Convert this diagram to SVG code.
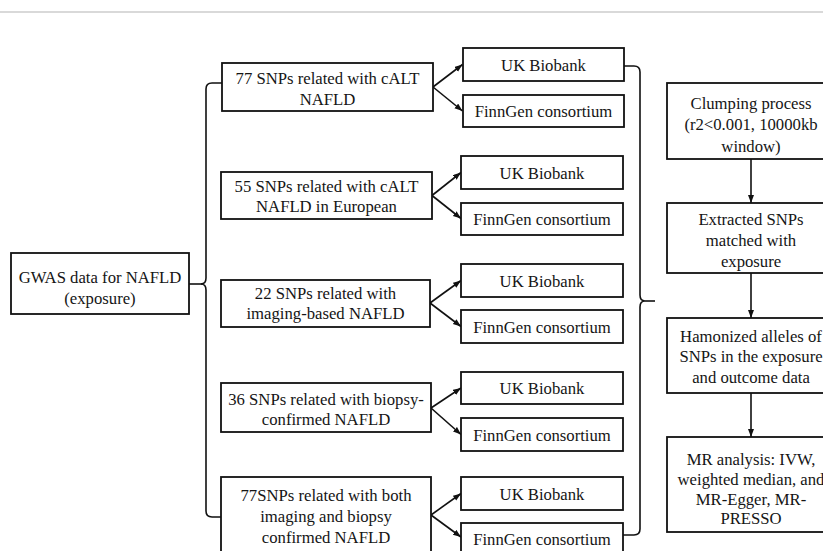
<svg xmlns="http://www.w3.org/2000/svg" width="823" height="551" viewBox="0 0 823 551">
<style>
  .box { fill: #ffffff; stroke: #111111; stroke-width: 1.8; }
  .t { font-family: "Liberation Serif", "Times New Roman", serif; font-size: 16.7px; fill: #151515; text-anchor: middle; }
  .c { fill: none; stroke: #111111; stroke-width: 1.6; }
</style>
<defs>
  <marker id="ah" markerUnits="userSpaceOnUse" markerWidth="9" markerHeight="7" refX="8" refY="3" orient="auto">
    <path d="M0,0 L8,3 L0,6 z" fill="#111111"/>
  </marker>
</defs>
<rect x="0" y="0" width="823" height="551" fill="#ffffff"/>
<line x1="0" y1="12" x2="823" y2="12" stroke="#cccccc" stroke-width="1.5"/>

<g id="connectors">
  <!-- left brace -->
  <line class="c" x1="189" y1="284" x2="202" y2="284"/>
  <path class="c" d="M222,83 H212 Q206,83 206,89 V278 Q206,284 201,284 Q206,284 206,290 V511 Q206,517 212,517 H221"/>
  <!-- branch arrows -->
  <line class="c" x1="433" y1="87" x2="462.5" y2="64.5" marker-end="url(#ah)"/>
  <line class="c" x1="433" y1="87" x2="462.5" y2="111" marker-end="url(#ah)"/>
  <line class="c" x1="432" y1="195.5" x2="461" y2="172.5" marker-end="url(#ah)"/>
  <line class="c" x1="432" y1="195.5" x2="461" y2="218.5" marker-end="url(#ah)"/>
  <line class="c" x1="430" y1="303" x2="461" y2="280.5" marker-end="url(#ah)"/>
  <line class="c" x1="430" y1="303" x2="461" y2="326.5" marker-end="url(#ah)"/>
  <line class="c" x1="431" y1="408" x2="461" y2="388" marker-end="url(#ah)"/>
  <line class="c" x1="431" y1="408" x2="461" y2="434.5" marker-end="url(#ah)"/>
  <line class="c" x1="431" y1="515" x2="461" y2="493.5" marker-end="url(#ah)"/>
  <line class="c" x1="431" y1="515" x2="461" y2="537" marker-end="url(#ah)"/>
  <!-- right brace -->
  <path class="c" d="M624,66 H634 Q640,66 640,72 V295 Q640,301 645,301 Q640,301 640,307 V529 Q640,535 634,535 H623"/>
  <line class="c" x1="645" y1="301" x2="655" y2="301"/>
  <!-- right column arrows -->
  <line class="c" x1="751" y1="159" x2="751" y2="203" marker-end="url(#ah)"/>
  <line class="c" x1="751" y1="273" x2="751" y2="318" marker-end="url(#ah)"/>
  <line class="c" x1="751" y1="393" x2="751" y2="437" marker-end="url(#ah)"/>
</g>

<g id="gwas">
  <rect class="box" x="11" y="253" width="178" height="61"/>
  <text class="t" x="100" y="282.5">GWAS data for NAFLD</text>
  <text class="t" x="100" y="303.5">(exposure)</text>
</g>

<g id="snp1">
  <rect class="box" x="222" y="63" width="211" height="48"/>
  <text class="t" x="327.5" y="84">77 SNPs related with cALT</text>
  <text class="t" x="327.5" y="105">NAFLD</text>
</g>
<g id="snp2">
  <rect class="box" x="221" y="172" width="211" height="47"/>
  <text class="t" x="326.5" y="191.5">55 SNPs related with cALT</text>
  <text class="t" x="326.5" y="212">NAFLD in European</text>
</g>
<g id="snp3">
  <rect class="box" x="221" y="280" width="209" height="47"/>
  <text class="t" x="325.5" y="298.5">22 SNPs related with</text>
  <text class="t" x="325.5" y="319">imaging-based NAFLD</text>
</g>
<g id="snp4">
  <rect class="box" x="221" y="383" width="210" height="49"/>
  <text class="t" x="326" y="404.5">36 SNPs related with biopsy-</text>
  <text class="t" x="326" y="425">confirmed NAFLD</text>
</g>
<g id="snp5">
  <rect class="box" x="221" y="477" width="210" height="80"/>
  <text class="t" x="326" y="501">77SNPs related with both</text>
  <text class="t" x="326" y="522">imaging and biopsy</text>
  <text class="t" x="326" y="543">confirmed NAFLD</text>
</g>

<g id="uk1"><rect class="box" x="463" y="48" width="161" height="33"/><text class="t" x="543.5" y="70.5">UK Biobank</text></g>
<g id="fg1"><rect class="box" x="463" y="95" width="161" height="32"/><text class="t" x="543.5" y="117">FinnGen consortium</text></g>
<g id="uk2"><rect class="box" x="461" y="156" width="162" height="33"/><text class="t" x="542" y="178.5">UK Biobank</text></g>
<g id="fg2"><rect class="box" x="461" y="203" width="162" height="32"/><text class="t" x="542" y="225">FinnGen consortium</text></g>
<g id="uk3"><rect class="box" x="461" y="264" width="162" height="33"/><text class="t" x="542" y="286.5">UK Biobank</text></g>
<g id="fg3"><rect class="box" x="461" y="310" width="162" height="33"/><text class="t" x="542" y="332.5">FinnGen consortium</text></g>
<g id="uk4"><rect class="box" x="461" y="372" width="162" height="32"/><text class="t" x="542" y="394">UK Biobank</text></g>
<g id="fg4"><rect class="box" x="461" y="418" width="162" height="33"/><text class="t" x="542" y="440.5">FinnGen consortium</text></g>
<g id="uk5"><rect class="box" x="461" y="477" width="162" height="33"/><text class="t" x="542" y="499.5">UK Biobank</text></g>
<g id="fg5"><rect class="box" x="461" y="523" width="162" height="33"/><text class="t" x="542" y="545">FinnGen consortium</text></g>

<g id="clumping">
  <rect class="box" x="667" y="83" width="168" height="76"/>
  <text class="t" x="751" y="108.5">Clumping process</text>
  <text class="t" x="751" y="130">(r2&lt;0.001, 10000kb</text>
  <text class="t" x="751" y="151.5">window)</text>
</g>
<g id="extracted">
  <rect class="box" x="667" y="203" width="168" height="70"/>
  <text class="t" x="751" y="225">Extracted SNPs</text>
  <text class="t" x="751" y="246">matched with</text>
  <text class="t" x="751" y="267">exposure</text>
</g>
<g id="harmonized">
  <rect class="box" x="667" y="318" width="168" height="75"/>
  <text class="t" x="751" y="341.5">Hamonized alleles of</text>
  <text class="t" x="751" y="362">SNPs in the exposure</text>
  <text class="t" x="751" y="382.5">and outcome data</text>
</g>
<g id="mr">
  <rect class="box" x="667" y="437" width="168" height="95"/>
  <text class="t" x="751" y="465">MR analysis: IVW,</text>
  <text class="t" x="751" y="485">weighted median, and</text>
  <text class="t" x="751" y="504.5">MR-Egger, MR-</text>
  <text class="t" x="751" y="524">PRESSO</text>
</g>
</svg>
